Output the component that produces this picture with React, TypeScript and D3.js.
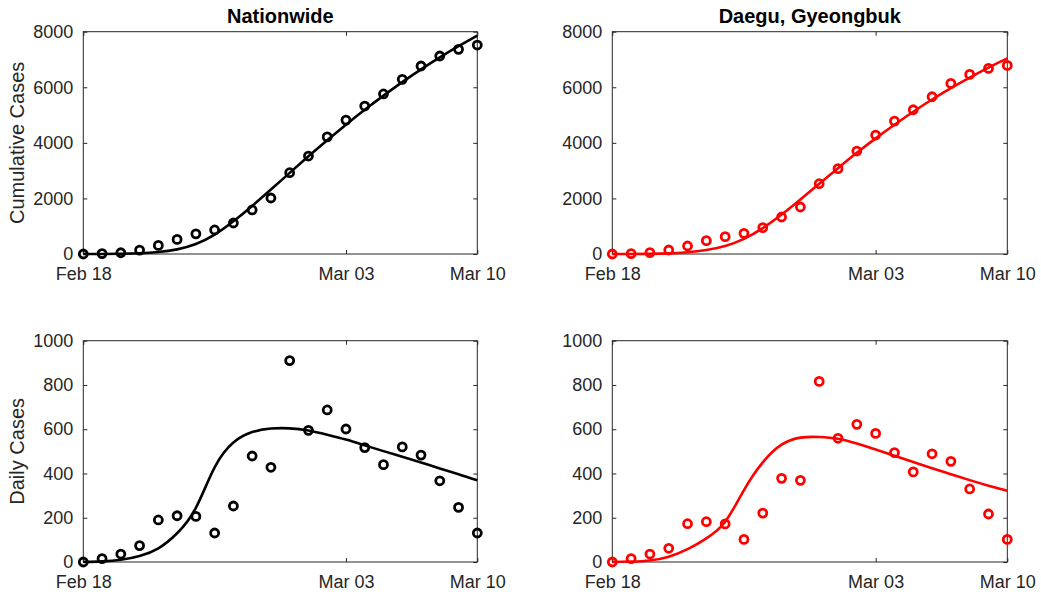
import React, { useRef, useEffect } from 'react';
import * as d3 from 'd3';

// days of the series (2020)
const days = [
  '2020-02-18', '2020-02-19', '2020-02-20', '2020-02-21', '2020-02-22', '2020-02-23',
  '2020-02-24', '2020-02-25', '2020-02-26', '2020-02-27', '2020-02-28', '2020-02-29',
  '2020-03-01', '2020-03-02', '2020-03-03', '2020-03-04', '2020-03-05', '2020-03-06',
  '2020-03-07', '2020-03-08', '2020-03-09', '2020-03-10',
];
const xTickDays = ['2020-02-18', '2020-03-03', '2020-03-10'];
const cumTicks = [0, 2000, 4000, 6000, 8000];
const dailyTicks = [0, 200, 400, 600, 800, 1000];

// Nationwide
const nationCum = [0, 15, 45, 140, 310, 525, 725, 865, 1115, 1585, 2015, 2925, 3525, 4215, 4820, 5325, 5760, 6285, 6765, 7125, 7365, 7520];
const nationCumFit = [0, 2, 8, 26, 71, 167, 357, 695, 1175, 1730, 2320, 2920, 3515, 4095, 4655, 5190, 5700, 6185, 6645, 7075, 7480, 7860];
const nationDaily = [0, 15, 36, 74, 190, 209, 206, 131, 253, 479, 428, 910, 595, 687, 601, 517, 440, 520, 483, 367, 247, 131];
const nationDailyFit = [0, 3, 10, 27, 62, 130, 245, 428, 540, 587, 603, 604, 594, 575, 553, 527, 501, 476, 450, 423, 397, 369];

// Daegu, Gyeongbuk
const daeguCum = [0, 12, 48, 144, 288, 480, 624, 743, 947, 1331, 1691, 2530, 3070, 3705, 4281, 4784, 5192, 5659, 6139, 6463, 6679, 6787];
const daeguCumFit = [0, 1, 5, 21, 62, 145, 290, 545, 930, 1420, 1965, 2530, 3090, 3640, 4160, 4650, 5120, 5560, 5970, 6350, 6710, 7040];
const daeguDaily = [0, 15, 36, 62, 173, 182, 172, 102, 221, 378, 369, 816, 559, 622, 581, 494, 407, 489, 455, 330, 217, 102];
const daeguDailyFit = [0, 2, 7, 24, 58, 107, 182, 325, 450, 530, 562, 565, 557, 535, 508, 480, 452, 424, 397, 370, 345, 322];

const FONT = '"Liberation Sans", Arial, Helvetica, sans-serif';
const AXC = '#262626';

type PanelProps = {
  x0: number; y0: number; w: number; h: number;
  yTicks: number[]; obs: number[]; fit: number[];
  color: string; title?: string; ylabel?: string;
};

const Panel = ({ x0, y0, w, h, yTicks, obs, fit, color, title, ylabel }: PanelProps) => {
  const ref = useRef<SVGGElement>(null);

  useEffect(() => {
    const g = d3.select(ref.current);
    g.selectAll('*').remove();
    const parse = d3.timeParse('%Y-%m-%d');
    const dates = days.map((d) => parse(d) as Date);
    const x = d3.scaleTime().domain([dates[0], dates[dates.length - 1]]).range([0, w]);
    const y = d3.scaleLinear().domain([yTicks[0], yTicks[yTicks.length - 1]]).range([h, 0]);
    const xt = xTickDays.map((d) => parse(d) as Date);
    const fmt = d3.timeFormat('%b %d');

    const style = (sel: any) => {
      sel.select('.domain').remove();
      sel.selectAll('line').attr('stroke', AXC).attr('stroke-width', 1);
      sel.selectAll('text').attr('fill', AXC).style('font-family', FONT).style('font-size', '18px');
    };

    g.append('g').attr('transform', `translate(0,${h})`)
      .call(d3.axisBottom(x).tickValues(xt).tickFormat((d: any) => fmt(d)).tickSizeInner(-4).tickSizeOuter(0).tickPadding(13))
      .call(style);
    g.append('g')
      .call(d3.axisTop(x).tickValues(xt).tickFormat(() => '').tickSizeInner(-4).tickSizeOuter(0))
      .call(style);
    g.append('g')
      .call(d3.axisLeft(y).tickValues(yTicks).tickFormat(d3.format('d')).tickSizeInner(-4).tickSizeOuter(0).tickPadding(10))
      .call(style);
    g.append('g').attr('transform', `translate(${w},0)`)
      .call(d3.axisRight(y).tickValues(yTicks).tickFormat(() => '').tickSizeInner(-4).tickSizeOuter(0))
      .call(style);

    g.append('rect').attr('x', 0).attr('y', 0).attr('width', w).attr('height', h)
      .attr('fill', 'none').attr('stroke', AXC).attr('stroke-width', 1);

    const fitLine = d3.line<number>()
      .x((_, i) => x(dates[i]))
      .y((v) => y(v))
      .curve(d3.curveNatural);

    g.append('path').datum(fit).attr('d', fitLine)
      .attr('fill', 'none').attr('stroke', color).attr('stroke-width', 2.6);

    g.selectAll('circle.obs').data(obs).join('circle')
      .attr('class', 'obs')
      .attr('cx', (_, i) => x(dates[i]))
      .attr('cy', (v) => y(v))
      .attr('r', 4)
      .attr('fill', 'none')
      .attr('stroke', color)
      .attr('stroke-width', 2.8);

    if (title) {
      g.append('text').attr('x', w / 2).attr('y', -9).attr('text-anchor', 'middle')
        .style('font-family', FONT).style('font-size', '20px').style('font-weight', 'bold')
        .attr('fill', '#000').text(title);
    }
    if (ylabel) {
      g.append('text')
        .attr('transform', `translate(${24 - x0},${h / 2}) rotate(-90)`)
        .attr('text-anchor', 'middle')
        .style('font-family', FONT).style('font-size', '20px')
        .attr('fill', AXC).text(ylabel);
    }
  }, [x0, y0, w, h, yTicks, obs, fit, color, title, ylabel]);

  return <g ref={ref} transform={`translate(${x0},${y0})`} />;
};

const App = () => {
  return (
    <svg width={1041} height={596} style={{ position: 'absolute', left: 0, top: 0, background: '#fff' }}>
      <rect width={1041} height={596} fill="#fff" />
      <Panel x0={83.3} y0={31.7} w={394} h={222.3} yTicks={cumTicks} obs={nationCum} fit={nationCumFit}
        color="#000" title="Nationwide" ylabel="Cumulative Cases" />
      <Panel x0={612.3} y0={31.7} w={395} h={222.3} yTicks={cumTicks} obs={daeguCum} fit={daeguCumFit}
        color="#ff0000" title="Daegu, Gyeongbuk" />
      <Panel x0={83.3} y0={340.7} w={394} h={221.3} yTicks={dailyTicks} obs={nationDaily} fit={nationDailyFit}
        color="#000" ylabel="Daily Cases" />
      <Panel x0={612.3} y0={340.7} w={395} h={221.3} yTicks={dailyTicks} obs={daeguDaily} fit={daeguDailyFit}
        color="#ff0000" />
    </svg>
  );
};

export default App;
